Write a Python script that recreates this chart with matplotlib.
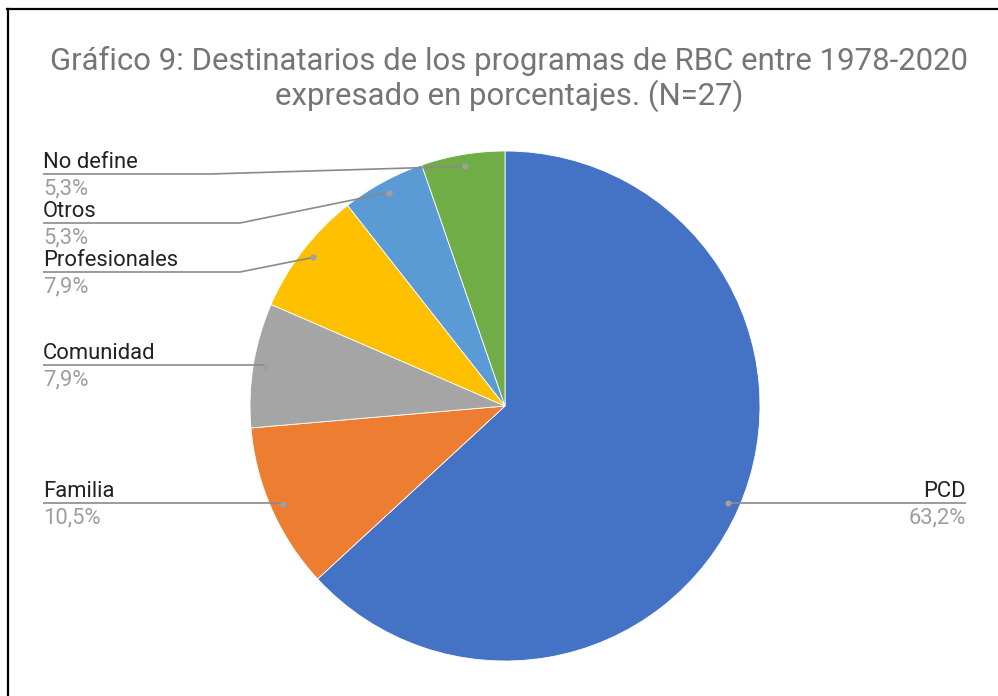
import matplotlib
matplotlib.use("Agg")
import matplotlib.pyplot as plt
from matplotlib.lines import Line2D
import numpy as np

plt.rcParams['font.family'] = ['Roboto', 'DejaVu Sans']

# ---- data ----
categories = ["PCD", "Familia", "Comunidad", "Profesionales", "Otros", "No define"]
values = [63.2, 10.5, 7.9, 7.9, 5.3, 5.3]
pct_labels = ["63,2%", "10,5%", "7,9%", "7,9%", "5,3%", "5,3%"]
colors = ["#4472C4", "#ED7D31", "#A5A5A5", "#FFC000", "#5B9BD5", "#70AD47"]
title_lines = ["Gráfico 9: Destinatarios de los programas de RBC entre 1978-2020",
               "expresado en porcentajes. (N=27)"]

W, H = 998, 696
fig = plt.figure(figsize=(W / 100, H / 100), dpi=100)
ax = fig.add_axes([0, 0, 1, 1])

def Y(p):
    return H - p

cx, cy, R = 505, 406, 255
wedges, _ = ax.pie(values, colors=colors, startangle=90, counterclock=False,
                   center=(cx, Y(cy)), radius=R,
                   wedgeprops=dict(edgecolor="white", linewidth=0.6))
ax.set_xlim(0, W)
ax.set_ylim(0, H)
ax.set_aspect('auto')
ax.axis('off')

# label layout (pixel positions): line y, text x, side, elbow x
layout = {
    "PCD": dict(ly=503, x=966, side="right", elbow=None),
    "Familia": dict(ly=503, x=43, side="left", elbow=None),
    "Comunidad": dict(ly=365, x=43, side="left", elbow=None),
    "Profesionales": dict(ly=272, x=43, side="left", elbow=240),
    "Otros": dict(ly=223, x=43, side="left", elbow=240),
    "No define": dict(ly=174, x=43, side="left", elbow=210),
}

line_col = "#8a8a8a"
dot_col = "#a0a0a0"
fs = 15.8
for w, name, pct in zip(wedges, categories, pct_labels):
    mid = np.deg2rad((w.theta1 + w.theta2) / 2)
    dx = cx + 0.953 * R * np.cos(mid)
    dy = Y(cy) + 0.953 * R * np.sin(mid)
    L = layout[name]
    ly = Y(L["ly"])
    if L["side"] == "left":
        if L["elbow"] is None:
            xs = [L["x"], dx]
            ys = [ly, ly]
        else:
            xs = [L["x"], L["elbow"], dx]
            ys = [ly, ly, dy]
        ha = "left"
    else:
        xs = [dx, L["x"]]
        ys = [ly, ly]
        ha = "right"
    ax.plot(xs, ys, color=line_col, lw=1.2, solid_capstyle="butt", zorder=3)
    ax.plot([dx], [dy], "o", color=dot_col, ms=4.5, mec="none", zorder=4)
    ax.text(L["x"], Y(L["ly"] - 6), name, ha=ha, va="baseline",
            fontsize=fs, color="#222222")
    ax.text(L["x"], Y(L["ly"] + 4), pct, ha=ha, va="top",
            fontsize=fs, color="#9e9e9e")

# title
ax.text(509, Y(70), title_lines[0], ha="center", va="baseline",
        fontsize=22.4, color="#757575")
ax.text(509, Y(105), title_lines[1], ha="center", va="baseline",
        fontsize=22.4, color="#757575")

# partial frame (top and left)
fig.add_artist(Line2D([6.5 / W, 1.0], [1 - 8.5 / H, 1 - 8.5 / H],
                      transform=fig.transFigure, color="black", lw=1.6))
fig.add_artist(Line2D([7.5 / W, 7.5 / W], [0, 1 - 8.5 / H],
                      transform=fig.transFigure, color="black", lw=1.6))

fig.savefig("out.png", dpi=100, facecolor="white")
